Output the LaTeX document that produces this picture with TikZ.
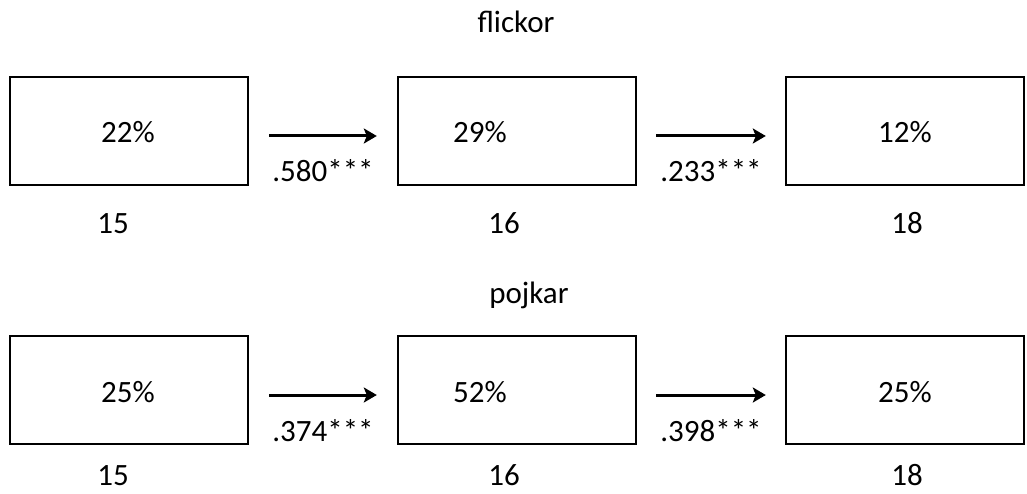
\documentclass[tikz,border=0pt]{standalone}
\usepackage{fontspec}
\setmainfont{Carlito}
\usetikzlibrary{arrows.meta}
\tikzset{
  box/.style={draw, line width=2.4pt, minimum width=238pt, minimum height=108pt, inner sep=0pt},
  txt/.style={anchor=base, inner sep=0pt, font=\fontsize{31}{36}\selectfont},
  coef/.style={txt, midway, yshift=-46pt},
  link/.style={line width=3pt, -{Stealth[length=13pt,width=15pt,inset=3pt]}}
}
\begin{document}
\begin{tikzpicture}[x=1pt,y=1pt]
    \useasboundingbox (0,0) rectangle (1027,-494);
    \foreach \r/\y/\g/\tx/\ty/\t/\a/\b/\c/\p/\q in {f/-131/-47/516/-33/flickor/22/29/12/.580/.233, p/-390/-40/529/-303/pojkar/25/52/25/.374/.398}
    {
        \node[txt] (\r-title) at (\tx,\ty) {\t};
        \node[box] (\r1) at (129,\y) {};
        \node[box] (\r2) at (517,\y) {};
        \node[box] (\r3) at (905,\y) {};
        \node[txt] (\r1-pct) at ([shift={(-1pt,-12pt)}]\r1.center) {\a\%};
        \node[txt] (\r2-pct) at ([shift={(-37pt,-12pt)}]\r2.center) {\b\%};
        \node[txt] (\r3-pct) at ([shift={(0pt,-12pt)}]\r3.center) {\c\%};
        \draw[link] ([shift={(20pt,-5pt)}]\r1.east) -- ([shift={(-20pt,-5pt)}]\r2.west) node[coef] (\r1-coef) {\p***};
        \draw[link] ([shift={(19pt,-5pt)}]\r2.east) -- ([shift={(-19pt,-5pt)}]\r3.west) node[coef] (\r2-coef) {\q***};
        \node[txt] (\r1-age) at ([shift={(-16pt,\g pt)}]\r1.south) {15};
        \node[txt] (\r2-age) at ([shift={(-13pt,\g pt)}]\r2.south) {16};
        \node[txt] (\r3-age) at ([shift={(2pt,\g pt)}]\r3.south) {18};
    }
\end{tikzpicture}
\end{document}
